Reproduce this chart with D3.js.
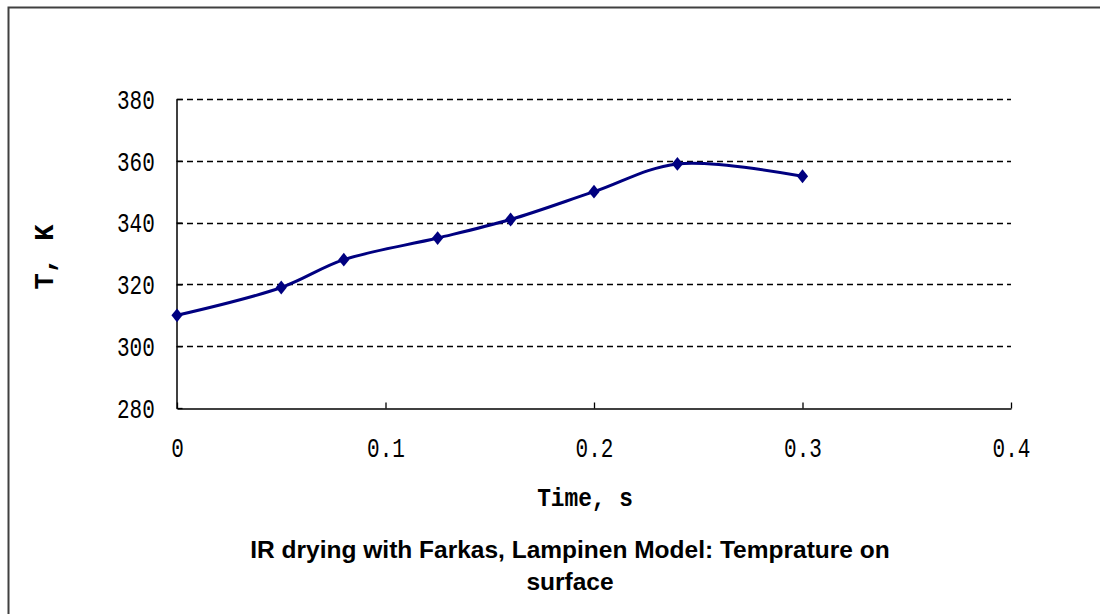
<!DOCTYPE html>
<html>
<head>
<meta charset="utf-8">
<script src="https://cdn.jsdelivr.net/npm/d3@7"></script>
<style>
  html, body { margin: 0; padding: 0; background: #fff; }
  svg { display: block; }
</style>
</head>
<body>
<svg id="chart" width="1100" height="614"></svg>
<script>
const timeValues = [0, 0.05, 0.08, 0.125, 0.16, 0.2, 0.24, 0.3];
const tempValues = [310, 319, 328, 335, 341, 350, 359, 355];
const xTicks = [0, 0.1, 0.2, 0.3, 0.4];
const yTicks = [280, 300, 320, 340, 360, 380];
const xLabel = "Time, s";
const yLabel = "T, K";
const titleLines = ["IR drying with Farkas, Lampinen Model: Temprature on", "surface"];

const svg = d3.select("#chart");
const W = 1100, H = 614;

// outer frame (top and left edges visible)
svg.append("path")
  .attr("d", `M8.5,${H} L8.5,7.5 L${W},7.5`)
  .attr("fill", "none").attr("stroke", "#404040").attr("stroke-width", 2);

const x = d3.scaleLinear().domain([0, 0.4]).range([177, 1011]);
const y = d3.scaleLinear().domain([280, 380]).range([408, 99]);

const monoFont = "'Liberation Mono', 'DejaVu Sans Mono', monospace";

// gridlines
svg.append("g").selectAll("line")
  .data(yTicks.filter(d => d !== 280))
  .join("line")
  .attr("x1", x(0)).attr("x2", x(0.4))
  .attr("y1", d => Math.round(y(d)) + 0.5).attr("y2", d => Math.round(y(d)) + 0.5)
  .attr("stroke", "#000").attr("stroke-width", 1.4)
  .attr("stroke-dasharray", "6,4");

// axes
const xAxis = d3.axisBottom(x).tickValues(xTicks).tickSizeInner(-6).tickSizeOuter(0)
  .tickFormat(d => d === 0 ? "0" : d3.format(".1f")(d));
const gx = svg.append("g").attr("transform", `translate(0,${Math.round(y(280)) + 0.5})`).call(xAxis);
gx.select(".domain").attr("stroke", "#000").attr("stroke-width", 1.5);
gx.selectAll(".tick line").attr("stroke", "#000").attr("stroke-width", 1.3);
gx.selectAll(".tick text")
  .attr("font-family", monoFont).attr("font-size", 28).attr("fill", "#000")
  .attr("y", 29).attr("dy", "0.71em")
  .attr("transform", "scale(0.75,1)");

const yAxis = d3.axisLeft(y).tickValues(yTicks).tickSizeInner(-6).tickSizeOuter(0);
const gy = svg.append("g").attr("transform", `translate(${Math.round(x(0)) - 0.5},0)`).call(yAxis);
gy.select(".domain").attr("stroke", "#000").attr("stroke-width", 1.5);
gy.selectAll(".tick line").attr("stroke", "#000").attr("stroke-width", 1.3);
gy.selectAll(".tick text")
  .attr("font-family", monoFont).attr("font-size", 28).attr("fill", "#000")
  .attr("x", -29).attr("dy", "0.33em")
  .attr("transform", "scale(0.75,1)");

// line
const pts = timeValues.map((t, i) => [t, tempValues[i]]);
const line = d3.line().x(d => x(d[0])).y(d => y(d[1])).curve(d3.curveCatmullRom.alpha(0.5));
svg.append("path").datum(pts)
  .attr("d", line)
  .attr("fill", "none").attr("stroke", "#000080").attr("stroke-width", 3);

// markers
const diamond = d3.symbol().type(d3.symbolDiamond2).size(110);
svg.append("g").selectAll("path")
  .data(pts).join("path")
  .attr("d", diamond)
  .attr("transform", d => `translate(${x(d[0])},${y(d[1])}) scale(0.85,1.05)`)
  .attr("fill", "#000080");

// axis labels
svg.append("text")
  .attr("x", 585).attr("y", 506)
  .attr("text-anchor", "middle")
  .attr("font-family", monoFont).attr("font-weight", "bold").attr("font-size", 24)
  .attr("transform", "translate(585,0) scale(0.95,1.1) translate(-585,-46)")
  .text(xLabel);

svg.append("text")
  .attr("transform", "translate(53,257) rotate(-90)")
  .attr("text-anchor", "middle")
  .attr("font-family", monoFont).attr("font-weight", "bold").attr("font-size", 27)
  .text(yLabel);

// title
const title = svg.append("text")
  .attr("text-anchor", "middle")
  .attr("font-family", "'Liberation Sans', Arial, sans-serif")
  .attr("font-weight", "bold").attr("font-size", 24.5).attr("fill", "#000");
titleLines.forEach((t, i) => {
  title.append("tspan").attr("x", 570).attr("y", 558 + i * 32).text(t);
});
</script>
</body>
</html>
